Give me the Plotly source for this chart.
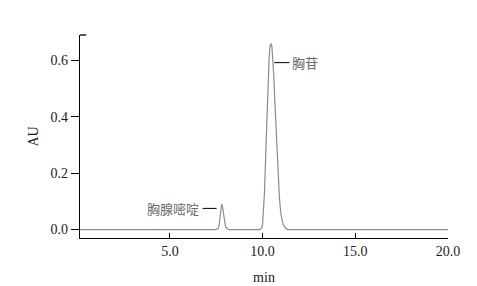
import plotly.graph_objects as go

# Chromatogram (time in min, absorbance in AU)
time_min = [0.0, 5.0, 7.5, 7.6, 7.65, 7.7, 7.75, 7.79, 7.84, 7.9, 7.95, 8.0, 8.1, 8.2,
            9.85, 9.95, 10.0, 10.05, 10.1, 10.15, 10.2, 10.25, 10.3, 10.35, 10.4, 10.45,
            10.5, 10.55, 10.6, 10.65, 10.7, 10.75, 10.8, 10.85, 10.9, 10.95, 11.0, 11.1,
            11.2, 11.35, 13.6, 13.9, 14.2, 20.0]
absorb_au = [0.0, 0.0, 0.0, 0.004, 0.015, 0.04, 0.075, 0.09, 0.08, 0.05, 0.025, 0.01, 0.002, 0.0,
             0.0, 0.005, 0.02, 0.06, 0.13, 0.23, 0.33, 0.44, 0.54, 0.61, 0.65, 0.66,
             0.65, 0.61, 0.55, 0.47, 0.39, 0.32, 0.25, 0.18, 0.12, 0.08, 0.05, 0.02,
             0.008, 0.0, 0.0, 0.002, 0.0, 0.0]

x_ticks = [5, 10, 15, 20]
x_tick_labels = ["5.0", "10.0", "15.0", "20.0"]
y_ticks = [0.0, 0.2, 0.4, 0.6]
y_tick_labels = ["0.0", "0.2", "0.4", "0.6"]

peak_names = ["胸腺嘧啶", "胸苷"]

serif = "Liberation Serif"
cjk = "Noto Sans CJK SC"

fig = go.Figure()
fig.add_trace(go.Scatter(x=time_min, y=absorb_au, mode="lines",
                         line=dict(color="#8c8c8c", width=1.2), hoverinfo="skip",
                         showlegend=False))

# Left label: thymine
fig.add_shape(type="line", xref="x", yref="y", x0=6.76, x1=7.52, y0=0.075, y1=0.075,
              line=dict(color="black", width=1))
fig.add_annotation(x=6.55, y=0.075, xref="x", yref="y", text=peak_names[0],
                   showarrow=False, xanchor="right", yanchor="middle", xshift=2,
                   font=dict(family=cjk, size=13, color="#6a6a6a"))
# Right label: thymidine
fig.add_shape(type="line", xref="x", yref="y", x0=10.63, x1=11.44, y0=0.592, y1=0.592,
              line=dict(color="black", width=1))
fig.add_annotation(x=11.6, y=0.592, xref="x", yref="y", text=peak_names[1],
                   showarrow=False, xanchor="left", yanchor="middle", xshift=-2,
                   font=dict(family=cjk, size=13, color="#6a6a6a"))

# cap at top of y axis
fig.add_shape(type="line", xref="x domain", yref="y domain", x0=0, x1=0.017, y0=1, y1=1,
              line=dict(color="black", width=1.3))

fig.update_layout(
    width=477, height=286,
    margin=dict(l=72, r=37, t=27, b=56),
    paper_bgcolor="white", plot_bgcolor="white",
    showlegend=False,
    xaxis=dict(range=[0.15, 20], tickvals=x_ticks, ticktext=x_tick_labels,
               ticks="inside", ticklen=5, tickcolor="black", tickwidth=1.3,
               showline=True, linecolor="black", linewidth=1.3, showgrid=False,
               zeroline=False, tickfont=dict(family=serif, size=14, color="#1a1a2a"),
               title=dict(text="min", font=dict(family=serif, size=14, color="#1a1a2a"),
                          standoff=14)),
    yaxis=dict(range=[-0.03, 0.69], tickvals=y_ticks, ticktext=y_tick_labels,
               ticks="outside", ticklen=8, tickcolor="black", tickwidth=1.3,
               showline=True, linecolor="black", linewidth=1.3, showgrid=False,
               zeroline=False, tickfont=dict(family=serif, size=14, color="#1a1a2a"),
               title=dict(text="AU", font=dict(family=serif, size=14, color="#1a1a2a"),
                          standoff=8)),
)

fig.write_html("out.html")
